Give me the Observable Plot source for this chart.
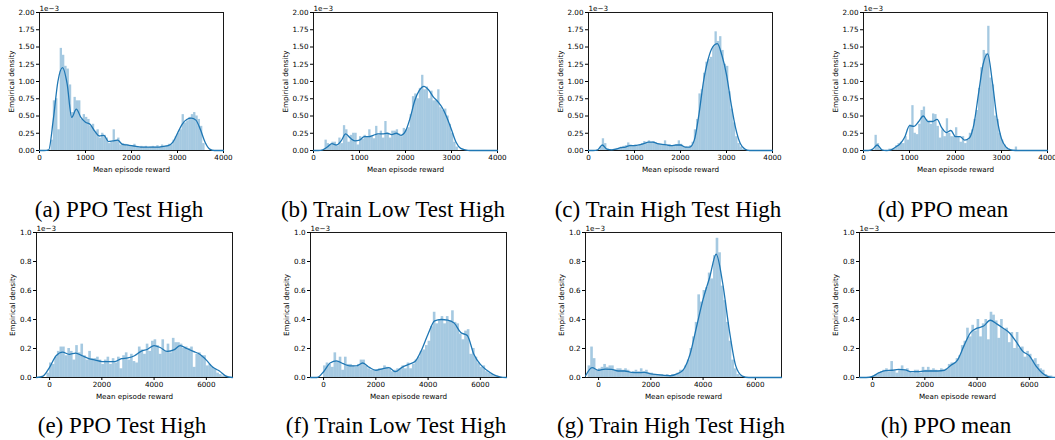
<!DOCTYPE html>
<html><head><meta charset="utf-8">
<script src="https://cdn.jsdelivr.net/npm/d3@7"></script>
<script src="https://cdn.jsdelivr.net/npm/@observablehq/plot@0.6"></script>
<style>
html,body{margin:0;padding:0;background:#fff;width:1055px;height:440px;overflow:hidden;position:relative}
.panel{position:absolute}
.cap{position:absolute;font-family:"Liberation Serif","Times New Roman",serif;font-size:23px;color:#000;white-space:nowrap;transform:translateX(-50%);line-height:1}
</style></head><body>
<script>
// ---------- data (density values in units of 1e-3) ----------
const captions = ["(a) PPO Test High","(b) Train Low Test High","(c) Train High Test High","(d) PPO mean",
                  "(e) PPO Test High","(f) Train Low Test High","(g) Train High Test High","(h) PPO mean"];
const xLabel = "Mean episode reward";
const yLabel = "Empirical density";
const offsetText = "1e\u22123";

// KDE evaluation grids
const gridTop = [0,100,200,300,400,500,600,700,800,900,1000,1100,1200,1300,1400,1500,1600,1700,1800,1900,2000,
                 2100,2200,2300,2400,2500,2600,2700,2800,2900,3000,3100,3200,3300,3400,3500,3600,3700,3800,3900,4000];
const gridBottom = [-500,-250,0,250,500,750,1000,1250,1500,1750,2000,2250,2500,2750,3000,3250,3500,3750,4000,
                    4250,4500,4750,5000,5250,5500,5750,6000,6250,6500,6750,7000];

// tick values
const xTicksTop = [0,1000,2000,3000,4000];
const yTicksTop = [0,0.25,0.5,0.75,1,1.25,1.5,1.75,2];
const xTicksBottom = [0,2000,4000,6000];
const yTicksBottom = [0,0.2,0.4,0.6,0.8,1];

// histogram bins: first bin edge, bin width, heights
const binWidthTop = 50, binWidthBottom = 100;
const startA = 250, startB = 250, startC = 250, startD = 250;
const startE = -100, startF = 0, startG = -400, startH = 0;

const histA = [0.15,0.72,0.75,0.3,1.48,1.38,1.22,1.18,0.95,0.55,
  0.77,0.72,0.72,0.45,0.52,0.48,0.45,0.35,0.38,0.28,
  0.3,0.18,0.25,0.22,0.18,0.1,0.12,0.3,0.15,0.18,
  0.08,0.1,0.09,0.08,0.07,0.06,0.09,0.05,0.04,0.06,
  0.05,0.06,0.04,0.05,0.06,0.05,0.07,0.05,0.08,0.06,
  0.07,0.09,0.08,0.15,0.2,0.25,0.3,0.52,0.4,0.43,
  0.48,0.52,0.55,0.5,0.45,0.35,0.1];
const kdeA = [0,0,0.01,0.45,1.0,1.2,0.97,0.48,0.6,0.48,0.41,0.38,0.28,0.21,0.22,0.13,0.14,0.15,0.09,0.08,
  0.07,0.06,0.05,0.05,0.05,0.05,0.05,0.06,0.07,0.12,0.25,0.38,0.45,0.47,0.44,0.3,0.12,0.02,0,0,0];

const histB = [0.15,0.1,0.08,0.12,0.12,0.06,0.18,0.1,0.36,0.3,
  0.12,0.22,0.25,0.25,0.08,0.2,0.16,0.22,0.2,0.3,
  0.2,0.17,0.35,0.22,0.28,0.18,0.42,0.25,0.18,0.28,
  0.28,0.3,0.24,0.2,0.32,0.3,0.33,0.52,0.78,0.82,
  0.75,0.9,1.09,0.88,0.92,0.75,0.86,0.72,0.72,0.88,
  0.62,0.58,0.6,0.5,0.38,0.25,0.12,0.05];
const kdeB = [0,0,0.01,0.05,0.1,0.08,0.14,0.24,0.18,0.14,0.15,0.2,0.2,0.22,0.24,0.24,0.25,0.23,0.25,0.22,
  0.28,0.47,0.72,0.87,0.93,0.88,0.78,0.71,0.62,0.48,0.3,0.12,0.03,0.01,0,0,0,0,0,0,0];

const histC = [0.05,0.17,0.1,0.02,0.01,0.01,0.02,0.03,0.03,0.05,
  0.06,0.07,0.11,0.08,0.06,0.08,0.06,0.08,0.1,0.13,
  0.1,0.14,0.12,0.13,0.11,0.1,0.09,0.08,0.14,0.07,
  0.08,0.06,0.07,0.08,0.14,0.09,0.06,0.05,0.04,0.07,
  0.12,0.3,0.45,0.82,0.88,1.12,1.28,1.32,1.35,1.5,
  1.72,1.58,1.65,1.45,1.25,1.22,0.85,0.6,0.4,0.2,
  0.1,0.05,0.02];
const kdeC = [0,0,0.01,0.08,0.02,0.01,0.02,0.04,0.05,0.07,0.07,0.08,0.1,0.12,0.12,0.1,0.09,0.08,0.07,0.08,
  0.08,0.05,0.05,0.15,0.52,1.0,1.32,1.5,1.55,1.38,1.1,0.68,0.32,0.1,0.02,0,0,0,0,0,0];

const histD = [0.22,0.1,0.02,0,0,0,0.02,0.02,0.02,0.07,
  0.1,0.12,0.1,0.2,0.15,0.37,0.65,0.25,0.23,0.38,
  0.58,0.63,0.45,0.42,0.38,0.53,0.52,0.35,0.18,0.3,
  0.2,0.46,0.25,0.2,0.2,0.33,0.2,0.12,0.2,0.1,
  0.15,0.25,0.3,0.45,0.58,0.9,1.2,1.45,1.4,1.8,
  1.05,0.95,0.5,0.45,0.25,0.15,0.08,0.04,0.02,0.01,
  0.01,0.05];
const kdeD = [0,0,0.02,0.08,0.01,0,0.01,0.05,0.1,0.2,0.36,0.35,0.42,0.5,0.42,0.42,0.45,0.33,0.26,0.29,
  0.2,0.2,0.15,0.18,0.38,0.82,1.25,1.4,1.0,0.48,0.17,0.05,0.01,0,0,0,0,0,0,0,0];

const histE = [0.03,0.1,0.09,0.14,0.18,0.21,0.21,0.15,0.2,0.18,
  0.12,0.22,0.17,0.23,0.15,0.12,0.18,0.13,0.13,0.14,
  0.12,0.09,0.12,0.14,0.09,0.13,0.1,0.14,0.06,0.15,
  0.17,0.12,0.16,0.11,0.1,0.21,0.19,0.16,0.23,0.18,
  0.25,0.26,0.22,0.16,0.26,0.18,0.23,0.17,0.27,0.24,
  0.24,0.23,0.2,0.21,0.2,0.21,0.07,0.16,0.17,0.15,
  0.15,0.08,0.09,0.07,0.06,0.03,0.02,0.01,0.01];
const kdeE = [0,0.01,0.07,0.15,0.175,0.16,0.168,0.15,0.13,0.12,0.11,0.11,0.11,0.13,0.135,0.15,0.18,0.195,0.22,
  0.205,0.18,0.19,0.22,0.2,0.18,0.16,0.12,0.07,0.045,0.01,0];

const histF = [0.08,0.1,0.09,0.07,0.17,0.11,0.14,0.05,0.14,0.09,
  0.09,0.08,0.07,0.09,0.12,0.12,0.08,0.06,0.05,0.05,
  0.05,0.06,0.06,0.08,0.07,0.06,0.04,0.05,0.06,0.06,
  0.08,0.06,0.1,0.06,0.09,0.12,0.14,0.18,0.19,0.22,
  0.25,0.35,0.45,0.37,0.4,0.42,0.37,0.42,0.39,0.46,
  0.38,0.37,0.3,0.26,0.32,0.33,0.16,0.2,0.14,0.1,
  0.07,0.08,0.04,0.03,0.02,0.01,0.01];
const kdeF = [0,0,0.04,0.1,0.115,0.095,0.08,0.08,0.1,0.07,0.05,0.06,0.068,0.04,0.07,0.09,0.11,0.19,0.3,
  0.39,0.4,0.395,0.375,0.31,0.29,0.16,0.09,0.05,0.02,0.005,0];

const histG = [0.08,0.21,0.13,0.05,0.06,0.07,0.09,0.07,0.08,0.08,
  0.05,0.06,0.06,0.05,0.06,0.05,0.03,0.04,0.05,0.04,
  0.06,0.04,0.05,0.03,0.03,0.02,0.02,0.02,0.02,0.01,
  0.02,0.01,0.02,0.02,0.03,0.05,0.05,0.08,0.12,0.2,
  0.28,0.38,0.57,0.52,0.6,0.62,0.72,0.68,0.84,0.96,
  0.86,0.63,0.53,0.38,0.25,0.12,0.06,0.02,0.01];
const kdeG = [0.01,0.068,0.05,0.058,0.056,0.045,0.045,0.035,0.033,0.035,0.025,0.02,0.015,0.012,0.025,0.055,
  0.16,0.35,0.54,0.69,0.85,0.65,0.33,0.08,0.01,0,0,0,0,0,0];

const histH = [0.01,0.02,0.03,0.04,0.05,0.06,0.04,0.11,0.05,0.03,
  0.05,0.08,0.05,0.06,0.04,0.03,0.05,0.05,0.03,0.07,
  0.05,0.07,0.05,0.06,0.05,0.04,0.06,0.05,0.06,0.09,
  0.1,0.1,0.13,0.15,0.22,0.25,0.34,0.28,0.36,0.32,
  0.4,0.28,0.37,0.4,0.26,0.45,0.43,0.39,0.27,0.4,
  0.33,0.34,0.24,0.31,0.2,0.31,0.2,0.21,0.14,0.18,
  0.16,0.12,0.13,0.09,0.06,0.05,0.02,0.01,0.01];
const kdeH = [0,0,0.008,0.033,0.048,0.05,0.056,0.052,0.04,0.041,0.045,0.045,0.045,0.05,0.085,0.12,0.22,0.31,
  0.34,0.355,0.395,0.37,0.34,0.305,0.245,0.18,0.15,0.08,0.03,0.005,0];

// ---------- layout (pixel positions of each plot frame) ----------
const layoutTop = {top: 12, w: 184, h: 138, lefts: [39,313,588,863], capBaseline: 217, capX: [119,393,668,943], ylo: 31};
const layoutBottom = {top: 232, w: 196, h: 145, lefts: [36,310,585,859], capBaseline: 433, capX: [122,396,671,946], ylo: 27};

const top4 = [[histA,startA,kdeA],[histB,startB,kdeB],[histC,startC,kdeC],[histD,startD,kdeD]];
const bot4 = [[histE,startE,kdeE],[histF,startF,kdeF],[histG,startG,kdeG],[histH,startH,kdeH]];

const blue = "#1f77b4";
const mL = 44, mR = 14, mT = 16, mB = 28;

function drawPanel(cfg, L, i, caption) {
  const [hist, start, kdeVals] = cfg.series;
  const bins = hist.map((h, k) => ({x0: start + k * cfg.bw, x1: start + (k + 1) * cfg.bw, h}));
  const kde = cfg.grid.map((x, k) => ({x, y: kdeVals[k]}));
  const chart = Plot.plot({
    width: L.w + mL + mR, height: L.h + mT + mB,
    marginLeft: mL, marginRight: mR, marginTop: mT, marginBottom: mB,
    style: {fontFamily: "'DejaVu Sans', sans-serif", fontSize: "7.2px", color: "#000", background: "transparent", overflow: "visible"},
    x: {domain: cfg.xDomain, ticks: cfg.xTicks, tickFormat: d3.format("d"), label: xLabel, labelAnchor: "center",
        labelOffset: 21, tickSize: 3, tickPadding: 1.5, labelArrow: "none"},
    y: {domain: cfg.yDomain, ticks: cfg.yTicks, tickFormat: d3.format(cfg.yFmt), label: yLabel, labelAnchor: "center",
        labelOffset: L.ylo, tickSize: 3, tickPadding: 2, labelArrow: "none"},
    marks: [
      Plot.rect(bins, {x1: "x0", x2: "x1", y1: 0, y2: "h", fill: blue, fillOpacity: 0.4}),
      Plot.frame({stroke: "#000", strokeWidth: 0.9}),
      Plot.line(kde, {x: "x", y: "y", stroke: blue, strokeWidth: 1.3, curve: "monotone-x"}),
      Plot.text([offsetText], {frameAnchor: "top-left", dy: -2, lineAnchor: "bottom", textAnchor: "start", fontSize: 7.2, fill: "#000"})
    ]
  });
  chart.classList.add("panel");
  chart.style.left = (L.lefts[i] - mL) + "px";
  chart.style.top = (L.top - mT) + "px";
  document.body.appendChild(chart);

  const cap = document.createElement("div");
  cap.className = "cap";
  cap.textContent = caption;
  cap.style.left = L.capX[i] + "px";
  cap.style.top = (L.capBaseline - 19) + "px";
  document.body.appendChild(cap);
}

top4.forEach((s, i) => drawPanel({series: s, bw: binWidthTop, grid: gridTop, xDomain: [0, 4000], xTicks: xTicksTop,
  yDomain: [0, 2], yTicks: yTicksTop, yFmt: ".2f"}, layoutTop, i, captions[i]));
bot4.forEach((s, i) => drawPanel({series: s, bw: binWidthBottom, grid: gridBottom, xDomain: [-500, 7000], xTicks: xTicksBottom,
  yDomain: [0, 1], yTicks: yTicksBottom, yFmt: ".1f"}, layoutBottom, i, captions[i + 4]));
</script>
</body></html>
